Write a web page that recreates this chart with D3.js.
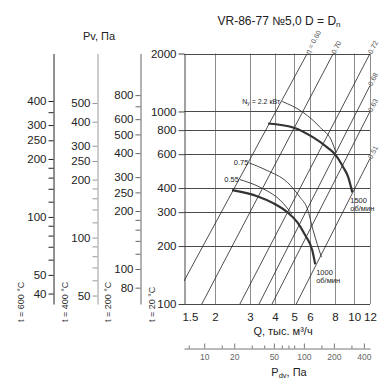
<!DOCTYPE html>
<html><head><meta charset="utf-8">
<script src="https://cdn.jsdelivr.net/npm/d3@7"></script>
<style>
body{margin:0;background:#fff}
svg{display:block}
text{font-family:"Liberation Sans",Arial,sans-serif}
</style>
</head><body>
<svg id="c" width="390" height="392"></svg>
<script>
// ---------- data ----------
const qTicks=[1.5,2,3,4,5,6,8,10,12];
const qGrid=[2,3,4,5,6,8,10,12];
const pTicks=[100,200,300,400,600,800,1000,2000];
const rpm1500=[[3.70,866],[4.94,826],[6.23,733],[7.32,651],[8.0,600],[8.81,513],[9.34,455],[9.78,380]];
const rpm1000=[[2.44,390],[3.26,363],[3.92,334],[4.61,300],[5.18,266],[5.67,228],[6.16,190],[6.37,161]];
const powerN22=[[4.35,1127],[5.55,988],[6.75,826],[7.76,691],[8.1,610]];
const powerN075=[[2.98,540],[3.65,494],[4.61,429],[5.35,358],[5.81,314],[6.23,240],[6.85,175]];
const powerN055=[[2.67,443],[3.37,404],[4.25,346],[4.88,293]];
const effLabels=["η = 0.60","0.70","0.72","0.68","0.63","0.51"];
const effStart=[[1.4,131.6],[1.72,100],[2.67,100],[3.33,100],[3.87,100],[5.12,100]];
const effEnd=[[5.81,2000],[7.85,2000],[12,2000],[12,1364],[12,1000],[12,570]];
const tempLabels=["t = 600 °C","t = 400 °C","t = 200 °C","t = 20 °C"];
const densityRatio=[0.353,0.452,0.658];
const sideMajor=[[400,300,250,200,100,50,40],[500,400,300,250,200,100,50],[800,600,500,400,300,250,200,100,80]];
const sideMinor=[[350,180,160,140,120,90,80,70,60],[180,160,140,120,90,80,70,60],[700,180,160,140,120]];
const pdvMajor=[10,20,50,100,200,400];
const pdvMinor=[7,15,30,40,60,70,80,150,300];
const pdvCoef=3.2;

// ---------- layout ----------
const svg=d3.select("#c");
const x=d3.scaleLog().domain([1.4,12]).range([184,370]);
const y=d3.scaleLog().domain([100,2000]).range([304,53.5]);
const L=x.range()[0],R=x.range()[1],T=y(2000),B=y(100);
const sideX=[53,97,140];
const sideColor=["#222","#999","#666"];

// vertical grid
svg.append("g").selectAll("line").data(qGrid).join("line")
  .attr("x1",d=>Math.round(x(d))+0.5).attr("x2",d=>Math.round(x(d))+0.5)
  .attr("y1",T).attr("y2",B).attr("stroke","#8c8c8c").attr("stroke-width",1);
// horizontal grid
svg.append("g").selectAll("line").data(pTicks).join("line")
  .attr("x1",L).attr("x2",R)
  .attr("y1",d=>Math.round(y(d))+0.5).attr("y2",d=>Math.round(y(d))+0.5)
  .attr("stroke","#4a4a4a").attr("stroke-width",1);

// main y axis
const yAx=svg.append("g").attr("transform",`translate(${L+0.5},0)`)
  .call(d3.axisLeft(y).tickValues(pTicks).tickFormat(d=>String(d)).tickSize(6).tickSizeOuter(0).tickPadding(2));
yAx.selectAll("path,line").attr("stroke","#444");
yAx.selectAll("text").attr("font-size",11.5).attr("fill","#222").attr("font-family","Liberation Sans, Arial");

// main x axis (labels)
const xAx=svg.append("g").attr("transform",`translate(0,${B})`)
  .call(d3.axisBottom(x).tickValues(qTicks).tickFormat(d=>String(d)).tickSize(0).tickPadding(9));
xAx.select(".domain").remove();
xAx.selectAll("text").attr("font-size",11.5).attr("fill","#222").attr("font-family","Liberation Sans, Arial");

// efficiency lines
const clipId="plotclip";
svg.append("clipPath").attr("id",clipId).append("rect").attr("x",L).attr("y",T).attr("width",R-L).attr("height",B-T);
const eff=svg.append("g").attr("clip-path",`url(#${clipId})`);
effLabels.forEach((lab,i)=>{
  eff.append("line")
    .attr("x1",x(effStart[i][0])).attr("y1",y(effStart[i][1]))
    .attr("x2",x(effEnd[i][0])).attr("y2",y(effEnd[i][1]))
    .attr("stroke","#222").attr("stroke-width",0.8);
});
effLabels.forEach((lab,i)=>{
  const x1=x(effStart[i][0]),y1=y(effStart[i][1]),x2=x(effEnd[i][0]),y2=y(effEnd[i][1]);
  const ang=Math.atan2(y2-y1,x2-x1)*180/Math.PI;
  svg.append("text").attr("transform",`translate(${x2+2},${y2+1}) rotate(${ang})`)
    .attr("font-size",7).attr("fill","#555").text(lab);
});

// curves
const line=d3.line().x(d=>x(d[0])).y(d=>y(d[1])).curve(d3.curveMonotoneX);
[powerN22,powerN075,powerN055].forEach(arr=>{
  svg.append("path").attr("d",line(arr)).attr("fill","none").attr("stroke","#333").attr("stroke-width",0.9);
});
[rpm1500,rpm1000].forEach(arr=>{
  svg.append("path").attr("d",line(arr)).attr("fill","none").attr("stroke","#333").attr("stroke-width",2.2);
});

// curve labels
function lab(tx,ty,str,anchor,size){
  return svg.append("text").attr("x",tx).attr("y",ty).attr("text-anchor",anchor||"start")
    .attr("font-size",size||7).attr("fill","#222").text(str);
}
{
  const s=powerN22[0];
  const t=lab(x(s[0])-2,y(s[1])+2.5,"N","end",7);
  t.text(null);
  t.append("tspan").text("N");
  t.append("tspan").attr("font-size",5).attr("dy",1.5).text("у");
  t.append("tspan").attr("dy",-1.5).text(" = 2.2 кВт");
  const a=powerN075[0];
  lab(x(a[0])-1,y(a[1])+2.5,"0.75","end",7.5);
  const b=powerN055[0];
  lab(x(b[0])-1,y(b[1])+2.5,"0.55","end",7.5);
  const e1=rpm1500[rpm1500.length-1];
  lab(x(e1[0])-2,y(e1[1])+11,"1500","start",7.5);
  lab(x(e1[0])-2,y(e1[1])+19,"об/мин","start",7.5);
  const e2=rpm1000[rpm1000.length-1];
  lab(x(e2[0])+1,y(e2[1])+11,"1000","start",7.5);
  lab(x(e2[0])+1,y(e2[1])+18.5,"об/мин","start",7.5);
}

// side pressure scales
densityRatio.forEach((r,i)=>{
  const s=d3.scaleLog().domain([100*r,2000*r]).range(y.range());
  const g=svg.append("g").attr("transform",`translate(${sideX[i]+0.5},0)`);
  g.call(d3.axisLeft(s).tickValues(sideMajor[i]).tickFormat(d=>String(d)).tickSize(5).tickSizeOuter(0).tickPadding(2));
  g.selectAll("path,line").attr("stroke",sideColor[i]);
  g.selectAll("text").attr("font-size",11.5).attr("fill","#222").attr("font-family","Liberation Sans, Arial");
  const m=svg.append("g").attr("transform",`translate(${sideX[i]+0.5},0)`);
  m.call(d3.axisLeft(s).tickValues(sideMinor[i]).tickFormat("").tickSize(5).tickSizeOuter(0));
  m.select(".domain").remove();
  m.selectAll("line").attr("stroke",sideColor[i]);
});

// temperature labels
const tX=[sideX[0],sideX[1],sideX[2],L];
tempLabels.forEach((t,i)=>{
  svg.append("text").attr("transform",`translate(${tX[i]-31},322) rotate(-90)`)
    .attr("font-size",9).attr("fill","#333").attr("dominant-baseline","middle").text(t);
});

// Pdv axis
const pdv=d3.scaleLog().domain([pdvCoef*x.domain()[0]**2,pdvCoef*x.domain()[1]**2]).range(x.range());
const pa=svg.append("g").attr("transform","translate(0,348.5)");
pa.call(d3.axisBottom(pdv).tickValues(pdvMajor).tickFormat(d=>String(d)).tickSize(-5).tickSizeOuter(0).tickPadding(5));
pa.selectAll("path,line").attr("stroke","#777");
pa.selectAll("text").attr("font-size",8.5).attr("fill","#666").attr("font-family","Liberation Sans, Arial");
const pm=svg.append("g").attr("transform","translate(0,348.5)");
pm.call(d3.axisBottom(pdv).tickValues(pdvMinor).tickFormat("").tickSize(-3).tickSizeOuter(0));
pm.select(".domain").remove();
pm.selectAll("line").attr("stroke","#777");

// titles
const title=svg.append("text").attr("x",279).attr("y",25).attr("text-anchor","middle").attr("font-size",12).attr("fill","#222");
title.append("tspan").text("VR-86-77 №5,0 D = D");
title.append("tspan").attr("font-size",8).attr("dy",2).text("n");
svg.append("text").attr("x",99).attr("y",40).attr("text-anchor","middle").attr("font-size",11).attr("fill","#222").text("Pv, Па");
svg.append("text").attr("x",283).attr("y",335).attr("text-anchor","middle").attr("font-size",11).attr("fill","#222").text("Q, тыс. м³/ч");
const pt=svg.append("text").attr("x",289).attr("y",376).attr("text-anchor","middle").attr("font-size",11).attr("fill","#222");
pt.append("tspan").text("P");
pt.append("tspan").attr("font-size",7.5).attr("dy",1.5).text("dv");
pt.append("tspan").attr("dy",-1.5).text(", Па");
</script>
</body></html>
